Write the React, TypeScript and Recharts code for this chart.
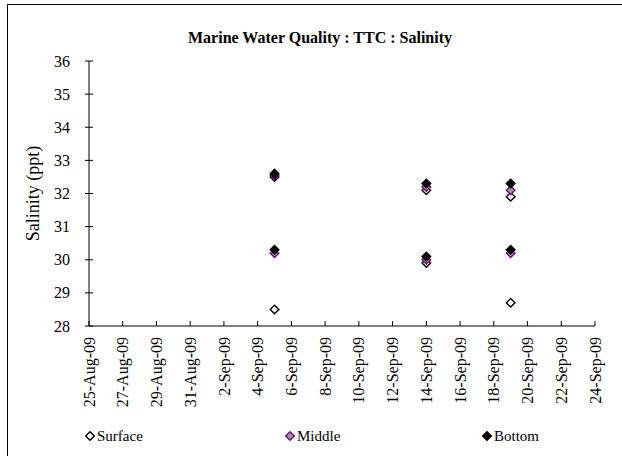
import React from 'react';
import { ScatterChart, Scatter, XAxis, YAxis } from 'recharts';

const chartTitle = 'Marine Water Quality : TTC : Salinity';
const yAxisTitle = 'Salinity (ppt)';
const xTickLabels = [
  '25-Aug-09', '27-Aug-09', '29-Aug-09', '31-Aug-09', '2-Sep-09', '4-Sep-09', '6-Sep-09', '8-Sep-09',
  '10-Sep-09', '12-Sep-09', '14-Sep-09', '16-Sep-09', '18-Sep-09', '20-Sep-09', '22-Sep-09', '24-Sep-09',
];
const yTicks = [28, 29, 30, 31, 32, 33, 34, 35, 36];

const sampleDates = ['5-Sep-09', '5-Sep-09', '14-Sep-09', '14-Sep-09', '19-Sep-09', '19-Sep-09'];
const surfaceValues = [32.5, 28.5, 32.1, 29.9, 31.9, 28.7];
const middleValues = [32.55, 30.2, 32.2, 30.0, 32.1, 30.2];
const bottomValues = [32.6, 30.3, 32.3, 30.1, 32.3, 30.3];

const seriesNames = ['Surface', 'Middle', 'Bottom'];

const MONTHS: Record<string, number> = {
  Jan: 0, Feb: 1, Mar: 2, Apr: 3, May: 4, Jun: 5, Jul: 6, Aug: 7, Sep: 8, Oct: 9, Nov: 10, Dec: 11,
};
const DAY = 86400000;
function parseDate(s: string): number {
  const [d, m, y] = s.split('-');
  return Date.UTC(2000 + Number(y), MONTHS[m], Number(d)) / DAY;
}

const xTicks = xTickLabels.map(parseDate);
const labelByDay: Record<number, string> = {};
xTickLabels.forEach((l, i) => { labelByDay[xTicks[i]] = l; });

const build = (vals: number[]) => vals.map((v, i) => ({ x: parseDate(sampleDates[i]), y: v }));
const surfaceData = build(surfaceValues);
const middleData = build(middleValues);
const bottomData = build(bottomValues);

const FONT = "Liberation Serif, Tinos, Times New Roman, serif";
const txt = (size: number, bold = false): React.CSSProperties => ({
  fontFamily: FONT,
  fontSize: size,
  fontWeight: bold ? 700 : 400,
});

const styles: Record<string, { fill: string; stroke: string }> = {
  Surface: { fill: '#ffffff', stroke: '#000000' },
  Middle: { fill: '#999999', stroke: '#800080' },
  Bottom: { fill: '#000000', stroke: '#000000' },
};

function diamondPath(cx: number, cy: number, r: number) {
  return `M${cx},${cy - r}L${cx + r},${cy}L${cx},${cy + r}L${cx - r},${cy}Z`;
}

const makeShape = (name: string) => (props: any) => {
  const { cx, cy } = props;
  if (cx == null || cy == null) return <g />;
  const st = styles[name];
  return <path d={diamondPath(cx, cy, 4.3)} fill={st.fill} stroke={st.stroke} strokeWidth={1.4} />;
};

const XTick = (props: any) => {
  const { x, y, payload } = props;
  return (
    <g>
      <line x1={x} x2={x} y1={y} y2={y - 5} stroke="#000" strokeWidth={1} />
      <text
        x={x}
        y={y + 11}
        dy="0.35em"
        textAnchor="end"
        transform={`rotate(-90, ${x}, ${y + 11})`}
        style={txt(16)}
        fill="#000"
      >
        {labelByDay[payload.value]}
      </text>
    </g>
  );
};

const YTick = (props: any) => {
  const { x, y, payload } = props;
  return (
    <g>
      <line x1={x - 4} x2={x + 4} y1={y} y2={y} stroke="#000" strokeWidth={1} />
      <text x={x - 19} y={y} dy="0.35em" textAnchor="end" style={txt(16)} fill="#000">
        {payload.value}
      </text>
    </g>
  );
};

const YLabel = (props: any) => {
  const vb = props.viewBox || { x: 0, y: 61, width: 89, height: 265 };
  const cx = 33;
  const cy = vb.y + vb.height / 2;
  return (
    <text
      x={cx}
      y={cy}
      textAnchor="middle"
      dy="0.35em"
      transform={`rotate(-90, ${cx}, ${cy})`}
      style={txt(18)}
      fill="#000"
    >
      {yAxisTitle}
    </text>
  );
};

const legendX = [90, 290, 487];

export default function App() {
  return (
    <div style={{ position: 'absolute', left: 0, top: 0, width: 622, height: 456, overflow: 'hidden', background: '#fff', fontFamily: FONT }}>
      <div style={{ position: 'absolute', left: 7, top: 4, width: 700, height: 600, border: '1px solid #000', boxSizing: 'border-box' }} />
      <ScatterChart
        width={622}
        height={456}
        margin={{ top: 61, right: 27, bottom: 50, left: 0 }}
        style={{ position: 'absolute', left: 0, top: 0, fontFamily: FONT }}
      >
        <XAxis
          type="number"
          dataKey="x"
          domain={[xTicks[0], xTicks[xTicks.length - 1]]}
          ticks={xTicks}
          interval={0}
          height={80}
          tickSize={0}
          tickMargin={0}
          tickLine={false}
          axisLine={{ stroke: '#000', strokeWidth: 1 }}
          tick={<XTick />}
          allowDataOverflow
        />
        <YAxis
          type="number"
          dataKey="y"
          domain={[yTicks[0], yTicks[yTicks.length - 1]]}
          ticks={yTicks}
          interval={0}
          width={89}
          tickSize={0}
          tickMargin={0}
          tickLine={false}
          axisLine={{ stroke: '#000', strokeWidth: 1 }}
          tick={<YTick />}
          label={<YLabel />}
          allowDataOverflow
        />
        <Scatter name="Surface" data={surfaceData} shape={makeShape('Surface')} isAnimationActive={false} />
        <Scatter name="Middle" data={middleData} shape={makeShape('Middle')} isAnimationActive={false} />
        <Scatter name="Bottom" data={bottomData} shape={makeShape('Bottom')} isAnimationActive={false} />
      </ScatterChart>
      <svg width={622} height={456} style={{ position: 'absolute', left: 0, top: 0, pointerEvents: 'none' }}>
        <text x={320} y={37} dy="0.35em" textAnchor="middle" style={txt(16, true)} fill="#000">
          {chartTitle}
        </text>
        {seriesNames.map((n, i) => (
          <g key={n}>
            <path d={diamondPath(legendX[i], 436, 4.3)} fill={styles[n].fill} stroke={styles[n].stroke} strokeWidth={1.4} />
            <text x={legendX[i] + 7} y={436} dy="0.35em" style={txt(15)} fill="#000">
              {n}
            </text>
          </g>
        ))}
      </svg>
    </div>
  );
}
